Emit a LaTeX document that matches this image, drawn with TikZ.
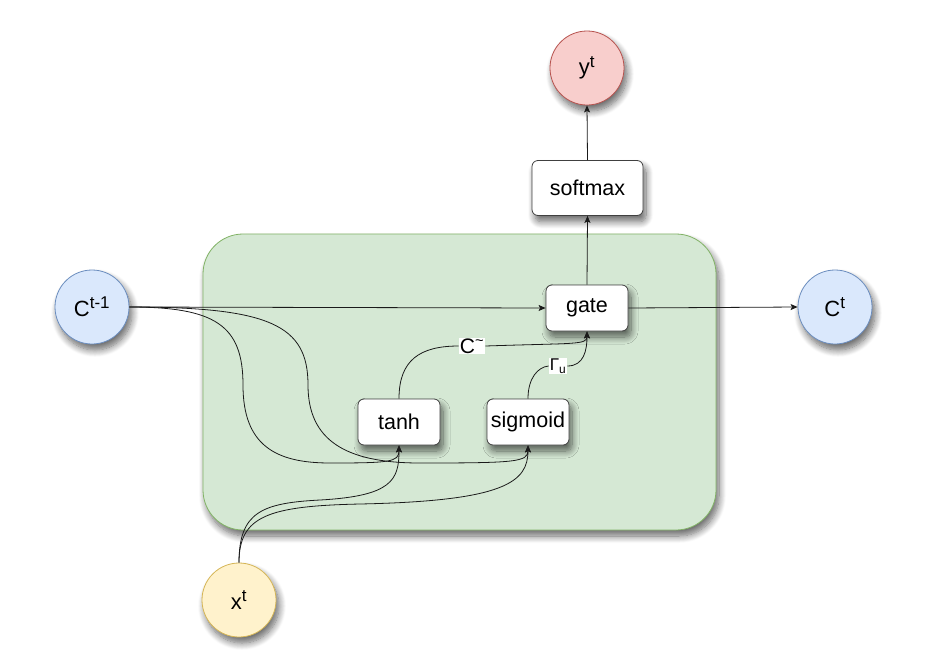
\documentclass[tikz,border=0pt]{standalone}
\usepackage{fontspec}
\setmainfont{Liberation Sans}
\usetikzlibrary{arrows.meta,shadows.blur}
\definecolor{greenF}{HTML}{D5E8D4}
\definecolor{greenS}{HTML}{82B366}
\definecolor{blueF}{HTML}{DAE8FC}
\definecolor{blueS}{HTML}{6C8EBF}
\definecolor{yellowF}{HTML}{FFF2CC}
\definecolor{yellowS}{HTML}{D6B656}
\definecolor{redF}{HTML}{F8CECC}
\definecolor{redS}{HTML}{B85450}
\definecolor{edgeC}{HTML}{1A1A1A}
\tikzset{
  shad/.style={blur shadow={shadow xshift=3pt, shadow yshift=-6pt, shadow blur radius=7pt, shadow blur steps=10, shadow opacity=60}},
  state/.style={circle, minimum size=74pt, inner sep=0pt, line width=0.8pt, shad, font=\fontsize{22}{26}\selectfont},
  opbox/.style={draw=black!75, fill=white, rounded corners=6pt, minimum width=82pt, minimum height=46pt, inner sep=0pt, line width=0.8pt, shad, font=\fontsize{21.5}{26}\selectfont},
  elabel/.style={fill=white, inner sep=1pt},
  conn/.style={draw=edgeC, line width=0.8pt},
  arr/.style={conn, -{Stealth[length=7pt,width=6pt,inset=1.5pt]}},
}
\begin{document}
\begin{tikzpicture}[x=1pt,y=-1pt]
\useasboundingbox (0,0) rectangle (934,667);
% cell
\node[draw=greenS, fill=greenF, rounded corners=40pt, minimum width=513pt, minimum height=296pt, line width=0.8pt, shad] (cell) at (459.5,382) {};
% nodes
\node[state, draw=blueS, fill=blueF] (cprev) at (92,307) {C\textsuperscript{\fontsize{17}{20}\selectfont t-1}};
\node[state, draw=blueS, fill=blueF] (cnext) at (835,307) {C\textsuperscript{\fontsize{17}{20}\selectfont t}};
\node[state, draw=redS, fill=redF] (y) at (587,68) {y\textsuperscript{\fontsize{17}{20}\selectfont t}};
\node[state, draw=yellowS, fill=yellowF] (x) at (239,600) {x\textsuperscript{\fontsize{17}{20}\selectfont t}};
\node[opbox, minimum width=111pt, minimum height=55pt] (softmax) at (587.5,188) {softmax};
\node[opbox] (gate) at (587,308) {gate};
\node[opbox] (tanh) at (399,422) {tanh};
\node[opbox] (sigmoid) at (528,422) {sigmoid};
% labels
\node[elabel, font=\fontsize{21}{24}\selectfont] (ctil) at (472,346) {C\textsuperscript{\textasciitilde}};
\node[elabel, font=\fontsize{17}{20}\selectfont] (gam) at (558,366) {Γ\textsubscript{u}};
% straight edges
\draw[arr] (cprev.east) -- (gate.west);
\draw[arr] (gate.east) -- (cnext.west);
\draw[arr] (gate.north) -- (softmax.south);
\draw[arr] (softmax.north) -- (y.south);
% tanh / sigmoid to gate
\draw[conn] (tanh.north) .. controls (399,360) and (420,346) .. (ctil.west);
\draw[arr] (ctil.east) .. controls (575,343) and (587,345) .. (gate.south);
\draw[conn] (sigmoid.north) .. controls (528,378) and (538,367) .. (gam.west);
\draw[arr] (gam.east) .. controls (584,366) and (587,350) .. (gate.south);
% C^{t-1} to tanh and sigmoid
\draw[arr] (cprev.east) .. controls (215,307) and (243,325) .. (243,385)
  .. controls (243,445) and (275,463) .. (330,463)
  .. controls (390,463) and (399,462) .. (tanh.south);
\draw[arr] (cprev.east) .. controls (270,307) and (308,325) .. (308,385)
  .. controls (308,440) and (345,463) .. (420,463)
  .. controls (515,463) and (528,462) .. (sigmoid.south);
% x^t to tanh and sigmoid
\draw[arr] (x.north) .. controls (239,512) and (262,503) .. (320,500)
  .. controls (392,496) and (399,480) .. (tanh.south);
\draw[arr] (x.north) .. controls (239,516) and (268,506) .. (360,504)
  .. controls (505,501) and (528,482) .. (sigmoid.south);
\end{tikzpicture}
\end{document}
